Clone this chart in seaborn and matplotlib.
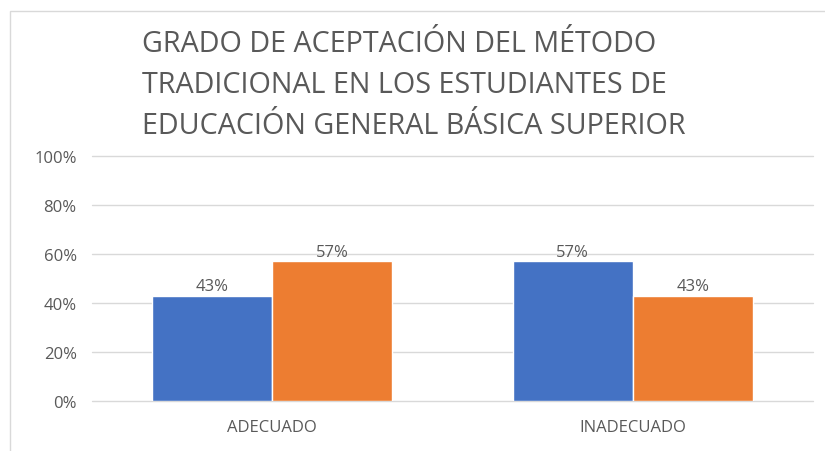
import matplotlib
matplotlib.use("Agg")
import matplotlib.pyplot as plt
import matplotlib.patches as mpatches
import pandas as pd
import seaborn as sns

categories = ["ADECUADO", "INADECUADO"]
serie_1 = [0.43, 0.57]
serie_2 = [0.57, 0.43]
series_names = ["Serie 1", "Serie 2"]
labels_1 = ["43%", "57%"]
labels_2 = ["57%", "43%"]
title = ("GRADO DE ACEPTACIÓN DEL MÉTODO\n"
         "TRADICIONAL EN LOS ESTUDIANTES DE\n"
         "EDUCACIÓN GENERAL BÁSICA SUPERIOR")

df = pd.DataFrame({
    "categoria": categories * 2,
    "serie": [series_names[0]] * 2 + [series_names[1]] * 2,
    "valor": serie_1 + serie_2,
    "etiqueta": labels_1 + labels_2,
})

sns.set_style("white")
plt.rcParams["font.family"] = ["Open Sans", "DejaVu Sans"]
grey = "#595959"

W, H = 825, 452
fig = plt.figure(figsize=(W / 100, H / 100), dpi=100)
ax = fig.add_axes([92 / W, 1 - 402 / H, (813 - 92) / W, (402 - 157) / H])

sns.barplot(data=df, x="categoria", y="valor", hue="serie",
            palette=["#4472C4", "#ED7D31"], width=0.666, gap=0,
            saturation=1, legend=False, ax=ax)

for container, labs in zip(ax.containers, [labels_1, labels_2]):
    ax.bar_label(container, labels=labs, padding=1, fontsize=12, color=grey)

ax.set_ylim(0, 1)
ax.set_xlim(-0.5, 1.5)
ax.set_yticks([0, 0.2, 0.4, 0.6, 0.8, 1.0])
ax.set_yticklabels(["0%", "20%", "40%", "60%", "80%", "100%"])
ax.yaxis.grid(True, color="#D9D9D9", linewidth=1)
for gl in ax.get_ygridlines():
    gl.set_clip_on(False)
ax.set_axisbelow(True)
for s in ax.spines.values():
    s.set_visible(False)
ax.tick_params(axis="y", length=0, pad=11, labelsize=12, labelcolor=grey)
ax.tick_params(axis="x", length=0, pad=13, labelsize=12, labelcolor=grey)
ax.set_xlabel("")
ax.set_ylabel("")

fig.text(142 / W, 1 - 30 / H, title, ha="left", va="top", fontsize=20.7,
         color=grey, linespacing=1.55)

border = mpatches.Rectangle((10 / W, -0.05), 1.2, 1 - 12 / H + 0.05,
                            transform=fig.transFigure, fill=False,
                            edgecolor="#D9D9D9", linewidth=1)
fig.patches.append(border)

fig.savefig("out.png", dpi=100)
